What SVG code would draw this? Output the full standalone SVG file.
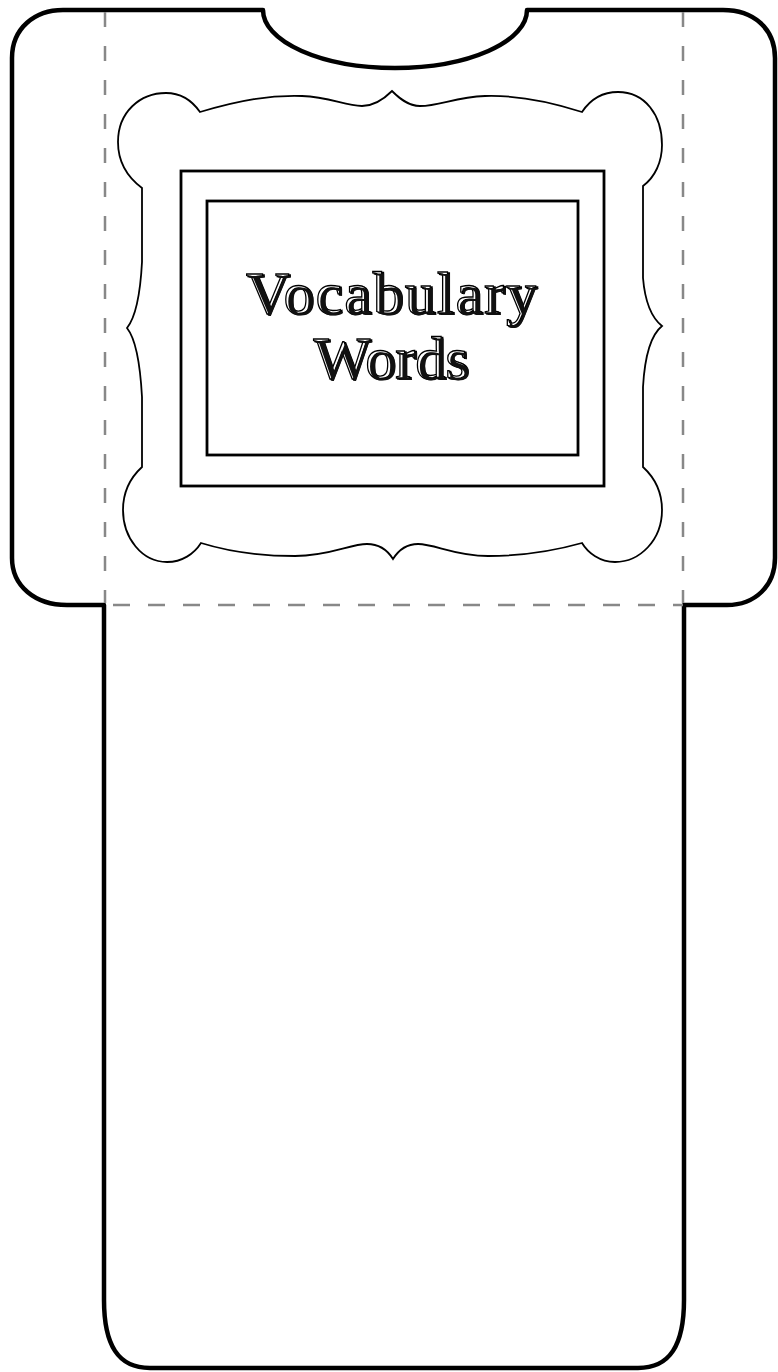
<svg xmlns="http://www.w3.org/2000/svg" width="778" height="1372" viewBox="0 0 778 1372">
  <style>
    .outline { fill: #ffffff; stroke: #000000; stroke-width: 4.5; stroke-linejoin: round; }
    .fold { fill: none; stroke: #888888; stroke-width: 2.5; }
    .frame { fill: #ffffff; stroke: #000000; stroke-width: 1.8; stroke-linejoin: miter; }
    .box { fill: #ffffff; stroke: #000000; stroke-width: 2.8; }
    .title { font-family: "Liberation Serif", "Times New Roman", serif; font-size: 60px; text-anchor: middle; }
    .t1 { letter-spacing: 2px; }
  </style>
  <rect x="0" y="0" width="778" height="1372" fill="#ffffff"/>

  <g id="shirt">
    <path class="outline" d="M63,10 L263,10 A132,58 0 0 0 527,10 L723,10 C753,10 775,28 775,58 L775,558 C775,586 755,605 727,605 L684,605 L684,1300 C684,1345 670,1368 638,1368 L150,1368 C118,1368 104,1345 104,1300 L104,605 L67,605 C35,605 12,586 12,558 L12,58 C12,28 35,10 63,10 Z"/>
  </g>

  <g id="fold-lines">
    <line class="fold" x1="105" y1="12" x2="105" y2="603" stroke-dasharray="15 19"/>
    <line class="fold" x1="683" y1="12" x2="683" y2="603" stroke-dasharray="15 19"/>
    <line class="fold" x1="113" y1="605" x2="683" y2="605" stroke-dasharray="17 18"/>
  </g>

  <g id="frame">
    <path class="frame" d="M142,188 C126,176 118,160 118,142 C118,112 140,93 166,93 C182,93 193,102 200,112 C240,100 270,95 302,96 C330,97 345,106 362,106 C375,106 385,98 392,91 C399,98 408,106 420,106 C440,106 455,97 485,96 C518,95 548,101 582,112 C590,100 602,92 618,92 C645,92 662,115 662,145 C662,162 655,177 643,186 L643,278 C645,302 652,318 662,326 C652,334 645,352 643,387 L643,467 C655,478 662,493 662,510 C662,540 640,562 615,562 C600,562 588,553 582,543 C550,552 520,556 488,556 C455,556 435,544 418,544 C405,544 398,551 393,559 C388,551 380,544 367,544 C350,544 330,556 295,556 C260,556 230,552 201,543 C194,554 182,562 167,562 C142,562 123,538 123,510 C123,492 130,478 142,467 L142,397 C140,360 135,338 127,328 C135,318 140,300 142,262 Z"/>
  </g>

  <g id="title-box">
    <rect class="box" x="181" y="171" width="423" height="315"/>
    <rect class="box" x="207" y="201" width="371" height="254"/>
  </g>

  <g id="title">
    <g transform="translate(1.6,1.4)">
      <text class="title t1" x="392" y="313" fill="#000" stroke="#000" stroke-width="1.6">Vocabulary</text>
      <text class="title" x="391" y="378" fill="#000" stroke="#000" stroke-width="1.6">Words</text>
    </g>
    <text class="title t1" x="392" y="313" fill="#fff" stroke="#000" stroke-width="1.3">Vocabulary</text>
    <text class="title" x="391" y="378" fill="#fff" stroke="#000" stroke-width="1.3">Words</text>
    <g transform="translate(2.4,2.1)">
      <text class="title t1" x="392" y="313" fill="#111">Vocabulary</text>
      <text class="title" x="391" y="378" fill="#111">Words</text>
    </g>
  </g>
</svg>
